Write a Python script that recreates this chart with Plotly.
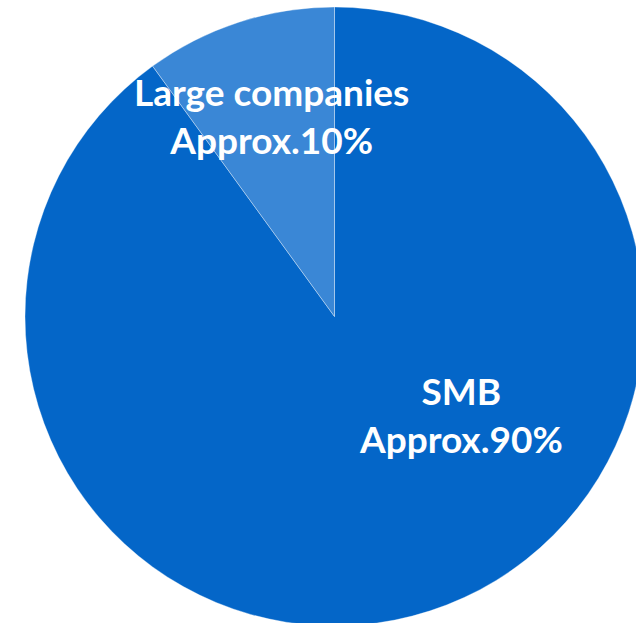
import plotly.graph_objects as go

labels = ["SMB", "Large companies"]
values = [90, 10]
label_text = ["SMB<br>Approx.90%", "Large companies<br>Approx.10%"]
colors = ["#0466C8", "#3A87D6"]
label_pos = [(461, 414), (271, 115)]  # pixel centers of the text blocks

W, H = 644, 626

fig = go.Figure(go.Pie(
    labels=labels,
    values=values,
    sort=False,
    direction="clockwise",
    rotation=0,
    marker=dict(colors=colors, line=dict(color="rgba(255,255,255,0.35)", width=1)),
    textinfo="none",
    hoverinfo="label+percent",
    showlegend=False,
    domain=dict(x=[25 / W, 1], y=[0, 1 - 7 / H]),
))

for txt, (px, py) in zip(label_text, label_pos):
    fig.add_annotation(
        text=txt, x=px / W, y=1 - py / H, xref="paper", yref="paper",
        showarrow=False, xanchor="center", yanchor="middle", align="center",
        font=dict(family="Lato, sans-serif", size=37, color="white", weight="bold"),
    )

fig.update_layout(
    width=W, height=H,
    margin=dict(l=0, r=0, t=0, b=0),
    paper_bgcolor="white", plot_bgcolor="white",
)

fig.write_html("out.html", config={"displayModeBar": False},
               post_script="document.body.style.margin='0';document.body.style.overflow='hidden';")
